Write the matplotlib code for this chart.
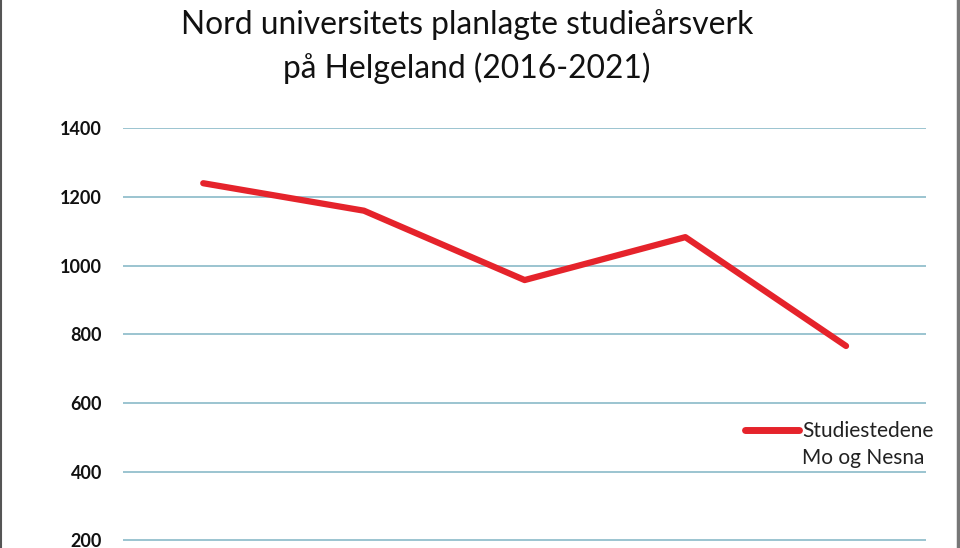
import matplotlib
matplotlib.use('Agg')
import matplotlib.pyplot as plt
from matplotlib.lines import Line2D

# planned study-year units per year
years = ['2016/17', '2017/18', '2018/19', '2019/20', '2020/21']
values = [1240, 1160, 958, 1083, 766]
series_label = 'Studiestedene'
series_label2 = 'Mo og Nesna'
y_ticks = [200, 400, 600, 800, 1000, 1200, 1400]

red = '#e5232b'
grid = '#93bfcd'

plt.rcParams['font.family'] = ['Lato', 'DejaVu Sans']

fig = plt.figure(figsize=(9.6, 5.48), dpi=100)
# axes runs past the bottom edge, like the cropped original (year labels fall outside)
ax = fig.add_axes([0.128, -0.1113, 0.837, 0.8772])

x = range(len(years))
ax.plot(x, values, color=red, linewidth=4.5, solid_capstyle='round', solid_joinstyle='round', zorder=3)
ax.set_xlim(-0.5, len(years) - 0.5)
ax.set_ylim(0, 1400)
ax.set_xticks(list(x))
ax.tick_params(axis='x', labelbottom=False)
ax.set_yticks(y_ticks)
ax.set_yticklabels([str(v) for v in y_ticks], fontsize=13, fontweight='bold', color='#111111')
ax.tick_params(length=0, pad=15)
ax.yaxis.grid(True, color=grid, linewidth=1.3)
ax.set_axisbelow(True)
for s in ax.spines.values():
    s.set_visible(False)

handles = [Line2D([], [], color=red, linewidth=5, solid_capstyle='round'),
           Line2D([], [], color='none')]
ax.legend(handles, [series_label, series_label2], loc='upper left',
          bbox_to_anchor=(745 / 960, 1 - 421 / 548), bbox_transform=fig.transFigure,
          frameon=False, fontsize=15, handlelength=2.6, handletextpad=0.15,
          labelspacing=0.36, borderpad=0, borderaxespad=0, labelcolor='#222222')

fig.text(0.4865, 1 - 34 / 548, 'Nord universitets planlagte studieårsverk',
         ha='center', va='baseline', fontsize=22.9, color='#111111')
fig.text(0.4865, 1 - 77.5 / 548, 'på Helgeland (2016-2021)',
         ha='center', va='baseline', fontsize=22.9, color='#111111')

# thin frame on the sides of the picture
fig.add_artist(Line2D([0.0015, 0.0015], [0, 1], transform=fig.transFigure, color='#555555', linewidth=1.5))
fig.add_artist(Line2D([0.9975, 0.9975], [0, 1], transform=fig.transFigure, color='#777777', linewidth=2.5))

plt.savefig('out.png', dpi=100)
